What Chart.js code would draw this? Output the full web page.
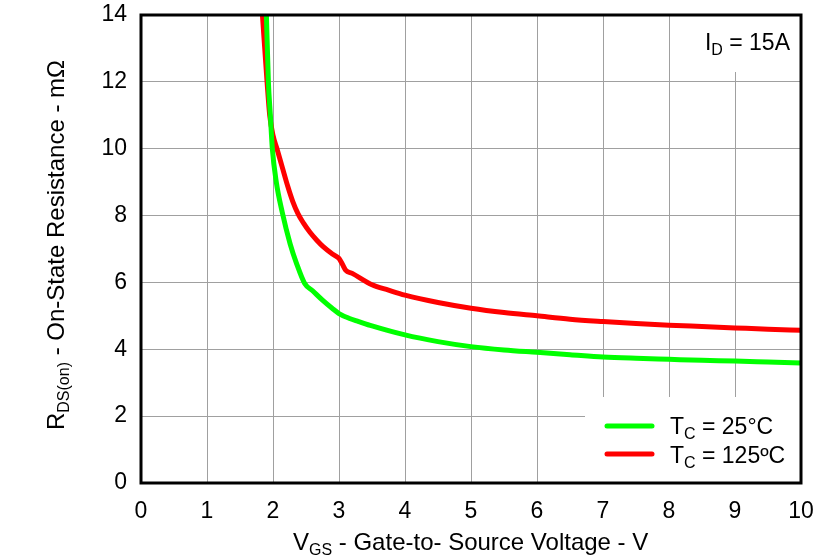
<!DOCTYPE html>
<html>
<head>
<meta charset="utf-8">
<script src="https://cdn.jsdelivr.net/npm/chart.js@4/dist/chart.umd.min.js"></script>
<style>
  html, body { margin: 0; padding: 0; background: #fff; }
  #wrap { width: 839px; height: 559px; }
</style>
</head>
<body>
<div id="wrap"><canvas id="myChart" width="839" height="559"></canvas></div>
<script>
  // values (Vgs in V, Rds(on) in mOhm)
  var vgs25 = [1.90, 1.93, 1.96, 1.99, 2.05, 2.14, 2.26, 2.36, 2.48, 2.60, 2.75, 2.90, 3.00, 3.15, 3.30, 3.50, 4.00, 4.50, 5.00, 5.50, 6.00, 6.50, 7.00, 7.50, 8.00, 8.50, 9.00, 9.50, 10.0];
  var rds25 = [14.0, 12.0, 11.0, 10.0, 9.0, 8.1, 7.15, 6.55, 5.97, 5.75, 5.47, 5.22, 5.07, 4.93, 4.83, 4.70, 4.43, 4.23, 4.08, 3.98, 3.91, 3.84, 3.77, 3.73, 3.70, 3.67, 3.65, 3.62, 3.59];

  var vgs125 = [1.84, 1.91, 1.95, 2.00, 2.06, 2.14, 2.22, 2.30, 2.38, 2.46, 2.56, 2.66, 2.76, 2.90, 3.00, 3.05, 3.10, 3.20, 3.50, 3.75, 4.00, 4.50, 5.00, 5.50, 6.00, 6.50, 7.00, 7.50, 8.00, 8.50, 9.00, 9.50, 10.0];
  var rds125 = [14.0, 12.0, 11.0, 10.4, 10.0, 9.45, 8.9, 8.42, 8.05, 7.78, 7.50, 7.27, 7.07, 6.85, 6.72, 6.55, 6.37, 6.27, 5.93, 5.77, 5.62, 5.40, 5.23, 5.10, 5.00, 4.90, 4.83, 4.77, 4.72, 4.68, 4.64, 4.60, 4.57];

  var xTicks = [0, 1, 2, 3, 4, 5, 6, 7, 8, 9, 10];
  var yTicks = [0, 2, 4, 6, 8, 10, 12, 14];

  var FONT = '"Liberation Sans", Arial, sans-serif';
  var SIZE = 23, SUB = 16;

  function toPoints(xs, ys){
    return xs.map(function(x, i){ return { x: x, y: ys[i] }; });
  }

  // draw text made of pieces, some of them subscript
  function partsWidth(ctx, parts, size){
    var w = 0;
    parts.forEach(function(p){
      ctx.font = (p[1] ? SUB : (size || SIZE)) + 'px ' + FONT;
      w += ctx.measureText(p[0]).width;
    });
    return w;
  }
  function drawParts(ctx, parts, x, y, size){
    parts.forEach(function(p){
      ctx.font = (p[1] ? SUB : (size || SIZE)) + 'px ' + FONT;
      ctx.fillText(p[0], x, p[1] ? y + 5 : y);
      x += ctx.measureText(p[0]).width;
    });
  }

  var decorations = {
    id: 'decorations',
    beforeDatasetsDraw: function(chart){
      var ctx = chart.ctx;
      ctx.save();
      ctx.fillStyle = '#fff';
      // white boxes behind the label and the legend
      ctx.fillRect(700, 15, 101, 57);
      ctx.fillRect(585, 397, 216, 86);
      ctx.restore();
    },
    afterDatasetsDraw: function(chart){
      var ctx = chart.ctx, a = chart.chartArea;
      ctx.save();
      // plot frame
      ctx.strokeStyle = '#000';
      ctx.lineWidth = 3;
      ctx.strokeRect(a.left, a.top, a.right - a.left, a.bottom - a.top);

      ctx.fillStyle = '#000';
      ctx.textBaseline = 'alphabetic';
      ctx.textAlign = 'left';

      // I_D label
      var id = [['I', false], ['D', true], [' = 15A', false]];
      drawParts(ctx, id, 790 - partsWidth(ctx, id), 50);

      // legend
      ctx.lineCap = 'round';
      ctx.lineWidth = 5;
      ctx.strokeStyle = '#00ff00';
      ctx.beginPath(); ctx.moveTo(607, 426); ctx.lineTo(652, 426); ctx.stroke();
      ctx.strokeStyle = '#ff0000';
      ctx.beginPath(); ctx.moveTo(607, 454); ctx.lineTo(652, 454); ctx.stroke();
      drawParts(ctx, [['T', false], ['C', true], [' = 25°C', false]], 670, 434);
      drawParts(ctx, [['T', false], ['C', true], [' = 125ºC', false]], 670, 463);

      // x axis title
      var xt = [['V', false], ['GS', true], [' - Gate-to- Source Voltage - V', false]];
      drawParts(ctx, xt, 293, 550, 24);

      // y axis title
      var yt = [['R', false], ['DS(on)', true], [' - On-State Resistance - mΩ', false]];
      var w = partsWidth(ctx, yt, 24);
      ctx.translate(64, 245);
      ctx.rotate(-Math.PI / 2);
      drawParts(ctx, yt, -w / 2, 0, 24);
      ctx.restore();
    }
  };

  var ctx = document.getElementById('myChart').getContext('2d');
  var myChart = new Chart(ctx, {
    type: 'scatter',
    data: {
      datasets: [{
        label: 'TC = 25°C',
        data: toPoints(vgs25, rds25),
        showLine: true,
        borderColor: '#00ff00',
        borderWidth: 5,
        pointRadius: 0,
        cubicInterpolationMode: 'monotone'
      }, {
        label: 'TC = 125ºC',
        data: toPoints(vgs125, rds125),
        showLine: true,
        borderColor: '#ff0000',
        borderWidth: 5,
        pointRadius: 0,
        cubicInterpolationMode: 'monotone'
      }]
    },
    options: {
      responsive: false,
      animation: false,
      events: [],
      layout: { padding: { top: 15, right: 38, left: 0, bottom: 0 } },
      plugins: {
        legend: { display: false },
        tooltip: { enabled: false }
      },
      scales: {
        x: {
          type: 'linear',
          min: 0, max: 10,
          afterBuildTicks: function(s){ s.ticks = xTicks.map(function(v){ return { value: v }; }); },
          afterFit: function(s){ s.height = 76; s.paddingLeft = 0; s.paddingRight = 0; },
          grid: { color: '#a0a0a0', lineWidth: 1, tickLength: 0, drawTicks: false },
          border: { display: false },
          ticks: { color: '#000', font: { family: FONT, size: SIZE }, padding: 15, maxRotation: 0 }
        },
        y: {
          type: 'linear',
          min: 0, max: 14,
          afterBuildTicks: function(s){ s.ticks = yTicks.map(function(v){ return { value: v }; }); },
          afterFit: function(s){ s.width = 141; s.paddingTop = 0; s.paddingBottom = 0; },
          grid: { color: '#a0a0a0', lineWidth: 1, tickLength: 0, drawTicks: false },
          border: { display: false },
          ticks: { color: '#000', font: { family: FONT, size: SIZE }, padding: 14 }
        }
      }
    },
    plugins: [decorations]
  });
</script>
</body>
</html>
